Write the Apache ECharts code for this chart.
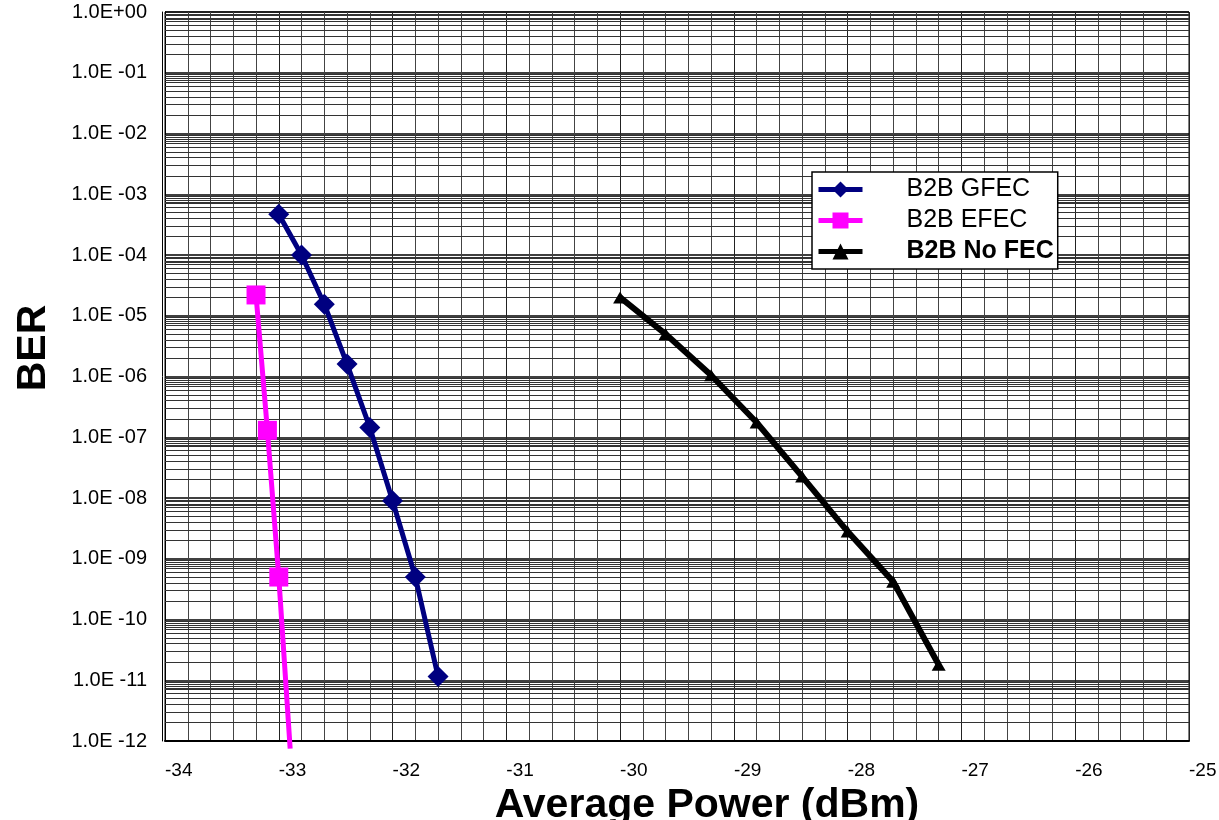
<!DOCTYPE html>
<html>
<head>
<meta charset="utf-8">
<title>BER vs Average Power</title>
<script src="https://cdn.jsdelivr.net/npm/echarts@6/dist/echarts.min.js"></script>
<style>
  html, body { margin: 0; padding: 0; background: #fff; }
  #chart { width: 1219px; height: 820px; }
</style>
</head>
<body>
<div id="chart"></div>
<script>
// values
const gfecPower = [-33.0, -32.8, -32.6, -32.4, -32.2, -32.0, -31.8, -31.6];
const gfecBer = [4.7e-4, 1.0e-4, 1.55e-5, 1.6e-6, 1.45e-7, 9.0e-9, 5.0e-10, 1.15e-11];

const efecPower = [-33.2, -33.1, -33.0, -32.9];
const efecBer = [2.2e-5, 1.3e-7, 5.0e-10, 7.5e-13];

const noFecPower = [-30.0, -29.6, -29.2, -28.8, -28.4, -28.0, -27.6, -27.2];
const noFecBer = [2.0e-5, 5.0e-6, 1.05e-6, 1.75e-7, 2.25e-8, 2.8e-9, 4.2e-10, 1.8e-11];

const seriesNames = ["B2B GFEC", "B2B EFEC", "B2B No FEC"];

// minor grid steps inside each decade (2x, 3x ... of 10^n)
const minorSteps = [2, 3, 4, 5, 6, 7, 7.5, 8, 8.7, 9.3];
const decades = [-12, -11, -10, -9, -8, -7, -6, -5, -4, -3, -2, -1];

const FONT = "'Liberation Sans', Arial, sans-serif";

function pairs(xs, ys) {
  return xs.map((x, i) => [x, ys[i]]);
}

function berLabel(v) {
  const e = Math.round(Math.log10(v));
  if (e === 0) return "1.0E+00";
  return "1.0E -" + String(-e).padStart(2, "0");
}

// horizontal minor grid, drawn as markLines from the left to the right end of the x axis
const minorLines = [];
decades.forEach((d) => {
  minorSteps.forEach((k) => {
    const v = k * Math.pow(10, d);
    minorLines.push([{ coord: [-34, v] }, { coord: [-25, v] }]);
  });
});

const efecData = pairs(efecPower, efecBer).map((p, i) =>
  i === efecPower.length - 1 ? { value: p, symbol: "none" } : p
);

const chart = echarts.init(document.getElementById("chart"), null, { renderer: "canvas" });

chart.setOption({
  animation: false,
  backgroundColor: "#fff",
  textStyle: { fontFamily: FONT },
  grid: {
    left: 165, right: 30, top: 12, bottom: 79,
    outerBoundsMode: "none",
    containLabel: false,
    show: true, borderColor: "#000", borderWidth: 1,
  },
  legend: {
    z: 20,
    orient: "vertical",
    left: 812, top: 172,
    backgroundColor: "#fff",
    borderColor: "#000",
    borderWidth: 1.5,
    borderRadius: 0,
    padding: [4, 4, 4, 4],
    itemGap: 4,
    itemWidth: 44,
    itemHeight: 20,
    lineStyle: { width: 5 },
    textStyle: { fontSize: 25, color: "#000", fontFamily: FONT, padding: [0, 0, 0, 39], lineHeight: 27 },
    data: [
      { name: seriesNames[0] },
      { name: seriesNames[1] },
      { name: seriesNames[2], textStyle: { fontWeight: "bold" } },
    ],
  },
  xAxis: {
    type: "value",
    min: -34, max: -25, interval: 1,
    name: "Average Power (dBm)",
    nameLocation: "middle",
    nameGap: 28,
    nameTextStyle: { fontSize: 41, fontWeight: "bold", color: "#000", fontFamily: FONT, padding: [0, 0, 0, 60] },
    axisLine: { show: true, onZero: false, lineStyle: { color: "#000", width: 2 } },
    axisTick: { show: false },
    axisLabel: { color: "#000", fontSize: 19, fontFamily: FONT, margin: 20, align: "left" },
    splitLine: { show: true, lineStyle: { color: "#222", width: 1 } },
    minorTick: { show: false, splitNumber: 5 },
    minorSplitLine: { show: true, lineStyle: { color: "#444", width: 1 } },
  },
  yAxis: [
    {
      type: "log",
      logBase: 10,
      min: 1e-12, max: 1,
      interval: 1,
      splitNumber: 12,
      name: "BER",
      nameLocation: "middle",
      nameGap: 111,
      nameTextStyle: { fontSize: 41, fontWeight: "bold", color: "#000", fontFamily: FONT, padding: [0, 0, 0, 57] },
      axisLine: { show: true, lineStyle: { color: "#000", width: 1 } },
      axisTick: { show: false },
      axisLabel: { color: "#000", fontSize: 20, fontFamily: FONT, margin: 18, formatter: berLabel },
      splitLine: { show: true, lineStyle: { color: "#000", width: 1.5 } },
    },
    {
      type: "log",
      logBase: 10,
      min: 1e-12, max: 1,
      position: "left",
      offset: 3,
      axisLine: { show: true, lineStyle: { color: "#000", width: 1 } },
      axisTick: { show: false },
      axisLabel: { show: false },
      splitLine: { show: false },
    },
  ],
  series: [
    {
      name: "minor grid",
      type: "line",
      z: 1,
      silent: true,
      showSymbol: false,
      symbol: "none",
      lineStyle: { width: 0 },
      data: [[-34, 1]],
      markLine: {
        silent: true,
        symbol: "none",
        precision: 20,
        label: { show: false },
        lineStyle: { color: "#333", width: 1, type: "solid" },
        emphasis: { disabled: true },
        data: minorLines,
      },
    },
    {
      name: seriesNames[0],
      type: "line",
      z: 5,
      clip: false,
      symbol: "diamond",
      symbolSize: 21,
      color: "#000080",
      lineStyle: { color: "#000080", width: 5 },
      itemStyle: { color: "#000080" },
      data: pairs(gfecPower, gfecBer),
    },
    {
      name: seriesNames[1],
      type: "line",
      z: 5,
      clip: false,
      symbol: "rect",
      symbolSize: 19,
      color: "#ff00ff",
      lineStyle: { color: "#ff00ff", width: 5 },
      itemStyle: { color: "#ff00ff" },
      data: efecData,
    },
    {
      name: seriesNames[2],
      type: "line",
      z: 5,
      clip: false,
      symbol: "triangle",
      symbolSize: [14, 12],
      color: "#000",
      lineStyle: { color: "#000", width: 6 },
      itemStyle: { color: "#000" },
      data: pairs(noFecPower, noFecBer),
    },
  ],
});
</script>
</body>
</html>
